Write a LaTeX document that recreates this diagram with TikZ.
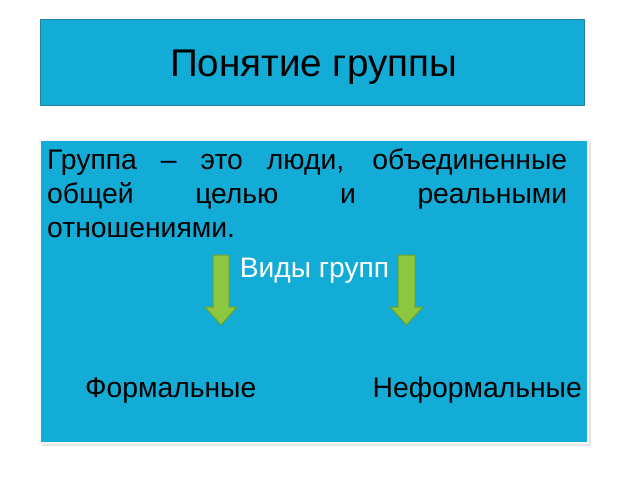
\documentclass[tikz,border=0pt]{standalone}
\usepackage{fontspec}
\setmainfont{Liberation Sans}
\definecolor{boxcyan}{RGB}{18,172,214}
\definecolor{boxedge}{RGB}{38,128,158}
\definecolor{arrowgreen}{RGB}{141,198,63}
\definecolor{arrowedge}{RGB}{104,162,44}
\tikzset{
  greenarrow/.style={fill=arrowgreen, draw=arrowedge, line width=1pt, line join=miter},
  label/.style={inner sep=0pt, anchor=base}
}
\begin{document}
\begin{tikzpicture}[x=1pt, y=-1pt]
    \useasboundingbox (0, 0) rectangle (640, 480);

    % title
    \draw[fill=boxcyan, draw=boxedge, line width=1pt] (40, 19) rectangle (584, 105);
    \node[label, font=\fontsize{38.6}{40}\selectfont] (title) at (313.5, 76) {Понятие группы};

    % body
    \fill[black!10] (42, 143) rectangle (591, 446);
    \draw[fill=boxcyan, draw=white!92!gray, line width=1.5pt] (40, 140) rectangle (588, 443);
    \node[inner sep=0pt, anchor=base west, text width=520pt, align=justify,
          font=\fontsize{28.3}{34.3}\selectfont] (def) at (47, 169)
        {\hyphenpenalty=10000 Группа -- это люди, объединенные\linebreak
         общей целью и реальными\linebreak отношениями.};
    \node[label, text=white, font=\fontsize{28.2}{30}\selectfont] (kinds) at (314.5, 277) {Виды групп};

    % arrows
    \draw[greenarrow] (213, 255) -- (229, 255) -- (229, 307) -- (237, 307)
        -- (221, 325) -- (205, 307) -- (213, 307) -- cycle;
    \draw[greenarrow] (398, 255) -- (415, 255) -- (415, 307) -- (423, 307)
        -- (406.5, 325) -- (390, 307) -- (398, 307) -- cycle;

    \node[label, anchor=base west, font=\fontsize{28.3}{30}\selectfont] (formal) at (85, 397) {Формальные};
    \node[label, anchor=base east, font=\fontsize{28.3}{30}\selectfont] (informal) at (582, 397) {Неформальные};
\end{tikzpicture}
\end{document}
